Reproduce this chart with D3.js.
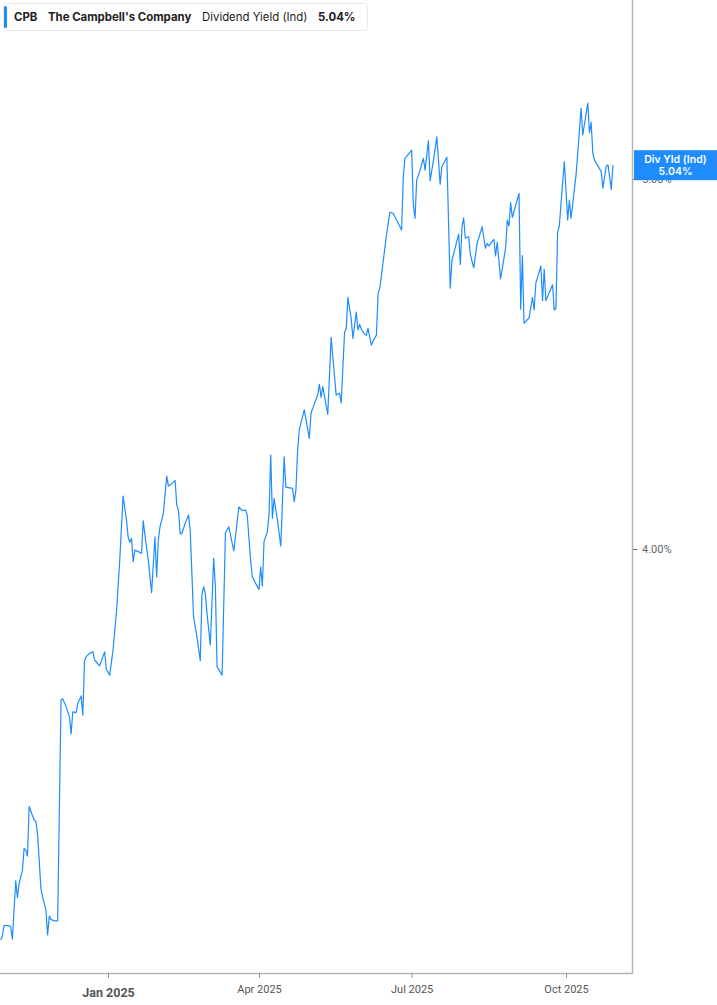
<!DOCTYPE html>
<html><head><meta charset="utf-8">
<script src="https://cdn.jsdelivr.net/npm/d3@7/dist/d3.min.js"></script>
<style>
html,body{margin:0;padding:0;background:#fff;}
svg{display:block;}
</style></head>
<body><svg id="chart" width="717" height="1005"></svg>
<script>
const ticker = "CPB";
const company = "The Campbell's Company";
const metric = "Dividend Yield (Ind)";
const lastValue = 5.04;
const tagLabel = "Div Yld (Ind)";

const dates = ["2024-10-29","2024-10-30","2024-10-31","2024-11-03","2024-11-04","2024-11-05","2024-11-07","2024-11-08","2024-11-09","2024-11-11",
"2024-11-12","2024-11-13","2024-11-14","2024-11-15","2024-11-17","2024-11-18","2024-11-19","2024-11-20","2024-11-22","2024-11-23",
"2024-11-25","2024-11-26","2024-11-27","2024-11-28","2024-11-30","2024-12-02","2024-12-04","2024-12-05","2024-12-07","2024-12-09",
"2024-12-10","2024-12-11","2024-12-13","2024-12-14","2024-12-16","2024-12-17","2024-12-18","2024-12-19","2024-12-21","2024-12-23",
"2024-12-24","2024-12-27","2024-12-30","2024-12-31","2025-01-02","2025-01-04","2025-01-06","2025-01-08","2025-01-10","2025-01-12",
"2025-01-13","2025-01-14","2025-01-15","2025-01-16","2025-01-17","2025-01-19","2025-01-21","2025-01-22","2025-01-23","2025-01-25",
"2025-01-27","2025-01-29","2025-01-30","2025-01-31","2025-02-01","2025-02-03","2025-02-05","2025-02-06","2025-02-08","2025-02-10",
"2025-02-11","2025-02-12","2025-02-13","2025-02-14","2025-02-16","2025-02-18","2025-02-19","2025-02-21","2025-02-23","2025-02-25",
"2025-02-26","2025-02-27","2025-02-28","2025-03-01","2025-03-03","2025-03-05","2025-03-06","2025-03-07","2025-03-10","2025-03-12",
"2025-03-14","2025-03-15","2025-03-17","2025-03-20","2025-03-22","2025-03-24","2025-03-25","2025-03-27","2025-03-28","2025-03-30",
"2025-04-01","2025-04-02","2025-04-03","2025-04-04","2025-04-06","2025-04-07","2025-04-08","2025-04-09","2025-04-10","2025-04-12",
"2025-04-14","2025-04-16","2025-04-17","2025-04-21","2025-04-22","2025-04-23","2025-04-24","2025-04-25","2025-04-28","2025-05-01",
"2025-05-02","2025-05-03","2025-05-06","2025-05-07","2025-05-08","2025-05-09","2025-05-11","2025-05-12","2025-05-14","2025-05-17",
"2025-05-19","2025-05-20","2025-05-22","2025-05-23","2025-05-24","2025-05-26","2025-05-27","2025-05-29","2025-05-30","2025-05-31",
"2025-06-01","2025-06-03","2025-06-04","2025-06-05","2025-06-07","2025-06-08","2025-06-10","2025-06-11","2025-06-12","2025-06-14",
"2025-06-16","2025-06-18","2025-06-20","2025-06-22","2025-06-25","2025-06-26","2025-06-27","2025-07-01","2025-07-02","2025-07-03",
"2025-07-04","2025-07-06","2025-07-08","2025-07-09","2025-07-11","2025-07-12","2025-07-14","2025-07-16","2025-07-18","2025-07-19",
"2025-07-22","2025-07-24","2025-07-25","2025-07-29","2025-07-30","2025-07-31","2025-08-01","2025-08-02","2025-08-04","2025-08-05",
"2025-08-07","2025-08-09","2025-08-12","2025-08-14","2025-08-15","2025-08-16","2025-08-19","2025-08-20","2025-08-21","2025-08-23",
"2025-08-26","2025-08-27","2025-08-28","2025-08-29","2025-08-30","2025-09-03","2025-09-04","2025-09-05","2025-09-06","2025-09-09",
"2025-09-11","2025-09-12","2025-09-13","2025-09-16","2025-09-17","2025-09-18","2025-09-19","2025-09-23","2025-09-24","2025-09-25",
"2025-09-26","2025-09-27","2025-09-30","2025-10-02","2025-10-03","2025-10-04","2025-10-07","2025-10-10","2025-10-11","2025-10-14",
"2025-10-15","2025-10-16","2025-10-17","2025-10-18","2025-10-22","2025-10-23","2025-10-25","2025-10-26","2025-10-28","2025-10-29"];

const yields = [2.943,2.952,2.982,2.982,2.979,2.946,3.103,3.058,3.096,3.132,
3.191,3.186,3.170,3.304,3.279,3.268,3.263,3.232,3.083,3.060,
3.024,2.957,3.008,2.999,2.995,2.995,3.592,3.595,3.574,3.547,
3.500,3.560,3.558,3.583,3.603,3.551,3.698,3.709,3.718,3.722,
3.700,3.684,3.722,3.675,3.659,3.727,3.827,3.970,4.143,4.078,
4.033,4.018,4.029,3.966,3.997,3.993,3.988,4.076,4.038,3.970,
3.882,4.033,3.925,4.024,4.060,4.096,4.197,4.170,4.176,4.185,
4.119,4.105,4.041,4.042,4.069,4.092,4.051,3.817,3.763,3.698,
3.876,3.898,3.880,3.826,3.741,3.975,3.898,3.682,3.659,4.044,
4.060,4.038,3.995,4.114,4.104,4.105,4.092,3.970,3.925,3.907,
3.891,3.951,3.900,4.020,4.047,4.095,4.254,4.083,4.137,4.078,
4.008,4.249,4.167,4.164,4.128,4.159,4.263,4.322,4.376,4.299,
4.367,4.380,4.416,4.445,4.410,4.439,4.389,4.364,4.572,4.416,
4.421,4.395,4.585,4.596,4.680,4.621,4.569,4.640,4.592,4.607,
4.594,4.580,4.578,4.596,4.551,4.562,4.578,4.691,4.705,4.776,
4.849,4.910,4.907,4.889,4.862,5.005,5.056,5.078,4.930,4.894,
4.997,5.024,5.056,5.024,5.103,4.995,5.051,5.114,4.986,5.033,
5.059,4.705,4.779,4.851,4.769,4.871,4.895,4.840,4.844,4.796,
4.760,4.826,4.871,4.813,4.826,4.819,4.837,4.792,4.829,4.730,
4.813,4.889,4.873,4.936,4.896,4.961,4.648,4.793,4.610,4.625,
4.680,4.646,4.718,4.765,4.671,4.756,4.671,4.714,4.646,4.651,
4.856,4.873,5.047,4.889,4.943,4.894,5.011,5.191,5.119,5.205,
5.125,5.153,5.069,5.051,5.020,4.975,5.035,5.038,4.972,5.038];

const xTickDates = ["2025-01-01","2025-04-01","2025-07-01","2025-10-01"];
const xTickLabels = ["Jan 2025","Apr 2025","Jul 2025","Oct 2025"];
const yTickValues = [4.00, 5.00];

const parse = d3.utcParse("%Y-%m-%d");
const data = dates.map((d,i)=>({date:parse(d), v:yields[i]}));

const svg = d3.select("#chart");
const plotRight = 632, plotBottom = 973;

const x = d3.scaleUtc()
  .domain([parse("2025-01-01"), parse("2025-10-01")])
  .range([108, 566]);
const y = d3.scaleLinear().domain([4, 5]).range([549, 179]);

// axes frame
svg.append("line").attr("x1",0).attr("x2",plotRight).attr("y1",plotBottom+0.5).attr("y2",plotBottom+0.5)
  .attr("stroke","#b5b5b5").attr("stroke-width",1.5);
svg.append("line").attr("x1",plotRight+0.5).attr("x2",plotRight+0.5).attr("y1",0).attr("y2",plotBottom+1)
  .attr("stroke","#b5b5b5").attr("stroke-width",1.5);

// x axis
const xAxis = d3.axisBottom(x)
  .tickValues(xTickDates.map(parse))
  .tickSize(5).tickPadding(7)
  .tickFormat((d,i)=>xTickLabels[i]);
const gx = svg.append("g").attr("transform",`translate(0,${plotBottom})`).call(xAxis);
gx.select(".domain").remove();
gx.selectAll(".tick line").attr("stroke","#999");
gx.selectAll(".tick text")
  .attr("font-family","Roboto, 'Liberation Sans', sans-serif")
  .attr("font-size",11).attr("fill","#555");
gx.selectAll(".tick text").filter((d,i)=>i===0)
  .attr("font-size",12.5).attr("font-weight","bold").attr("dy","0.98em");

// y axis
const yAxis = d3.axisRight(y).tickValues(yTickValues).tickSize(4).tickPadding(5)
  .tickFormat(d=>d3.format(".2f")(d)+"%");
const gy = svg.append("g").attr("transform",`translate(${plotRight+1},0)`).call(yAxis);
gy.select(".domain").remove();
gy.selectAll(".tick line").attr("stroke","#666");
gy.selectAll(".tick text")
  .attr("font-family","Roboto, 'Liberation Sans', sans-serif")
  .attr("font-size",11).attr("fill","#666");

// line
const line = d3.line().x(d=>x(d.date)).y(d=>y(d.v));
svg.append("path").datum(data)
  .attr("d",line).attr("fill","none")
  .attr("stroke","#1e8cff").attr("stroke-width",1.2).attr("stroke-linejoin","round");

// last value tag
const tagY = y(lastValue);
const tag = svg.append("g");
tag.append("rect").attr("x",plotRight+2).attr("y",tagY-14).attr("width",717-plotRight-2).attr("height",30)
  .attr("fill","#1e8cff");
tag.append("text").attr("x",(plotRight+717)/2+1).attr("y",tagY-1)
  .attr("text-anchor","middle").attr("font-family","Inter, 'Noto Sans', sans-serif")
  .attr("font-size",10.5).attr("font-weight","600").attr("fill","#fff").text(tagLabel);
tag.append("text").attr("x",(plotRight+717)/2+1).attr("y",tagY+11)
  .attr("text-anchor","middle").attr("font-family","Inter, 'Noto Sans', sans-serif")
  .attr("font-size",10.5).attr("font-weight","600").attr("fill","#fff").text(d3.format(".2f")(lastValue)+"%");

// header legend box
const hdr = svg.append("g");
hdr.append("rect").attr("x",3.5).attr("y",3.5).attr("width",364).attr("height",27).attr("rx",3)
  .attr("fill","#fff").attr("stroke","#e8e8e8");
hdr.append("rect").attr("x",4).attr("y",6).attr("width",3).attr("height",22).attr("rx",1.5).attr("fill","#1e8cff");
const ht = hdr.append("text").attr("y",21).attr("font-family","Inter, 'Noto Sans', sans-serif")
  .attr("font-size",11.4).attr("fill","#222");
ht.append("tspan").attr("x",14).attr("font-weight","bold").text(ticker);
ht.append("tspan").attr("x",48).attr("font-weight","bold").text(company);
ht.append("tspan").attr("x",202).attr("font-weight","normal").text(metric);
ht.append("tspan").attr("x",318).attr("font-weight","bold").text(d3.format(".2f")(lastValue)+"%");
</script></body></html>
